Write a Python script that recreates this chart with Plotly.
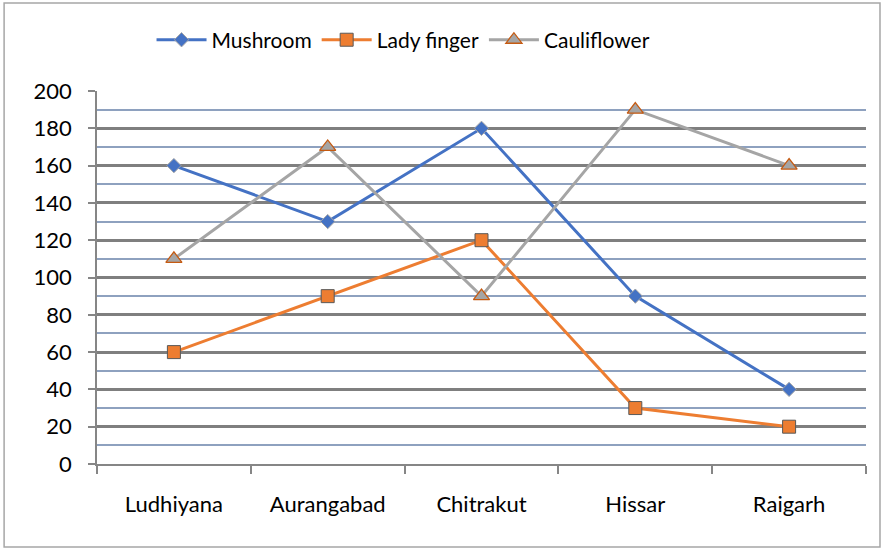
import plotly.graph_objects as go

categories = ["Ludhiyana", "Aurangabad", "Chitrakut", "Hissar", "Raigarh"]
mushroom = [160, 130, 180, 90, 40]
lady_finger = [60, 90, 120, 30, 20]
cauliflower = [110, 170, 90, 190, 160]
y_ticks = [0, 20, 40, 60, 80, 100, 120, 140, 160, 180, 200]

FONT = "Lato, 'Open Sans', sans-serif"

fig = go.Figure()
fig.add_trace(go.Scatter(
    x=categories, y=mushroom, name="Mushroom", mode="lines+markers",
    line=dict(color="#4472C4", width=3),
    marker=dict(symbol="diamond", size=11, color="#4472C4",
                line=dict(color="#A5A5A5", width=1))))
fig.add_trace(go.Scatter(
    x=categories, y=lady_finger, name="Lady finger", mode="lines+markers",
    line=dict(color="#ED7D31", width=3),
    marker=dict(symbol="square", size=13, color="#ED7D31",
                line=dict(color="#595959", width=1))))
fig.add_trace(go.Scatter(
    x=categories, y=cauliflower, name="Cauliflower", mode="lines+markers",
    line=dict(color="#A5A5A5", width=3),
    marker=dict(symbol="triangle-up", size=14, color="#A5A5A5",
                line=dict(color="#C55A11", width=1.3))))

fig.update_layout(
    width=883, height=549,
    margin=dict(l=97, r=17, t=91, b=85, autoexpand=False),
    paper_bgcolor="white", plot_bgcolor="white",
    font=dict(family=FONT, size=22, color="black"),
    showlegend=True,
    legend=dict(orientation="h", x=0.457, xref="container", xanchor="center",
                y=0.927, yref="container", yanchor="middle",
                bgcolor="rgba(0,0,0,0)",
                font=dict(size=21), itemwidth=50, traceorder="normal"),
    xaxis=dict(
        type="category", range=[-0.5, 4.5], showline=True, linecolor="#868686",
        linewidth=1.5, ticks="outside", tickson="boundaries", ticklen=8,
        tickcolor="#868686", tickwidth=1.5, showgrid=False, ticklabelstandoff=20,
        tickfont=dict(size=22), automargin=False),
    yaxis=dict(
        range=[0, 200], tickvals=y_ticks, showline=True, linecolor="#868686",
        linewidth=1.5, ticks="outside", ticklen=7, tickcolor="#868686",
        tickwidth=1.5, showgrid=True, gridcolor="#7F7F7F", gridwidth=2.5,
        zeroline=False, tickfont=dict(size=22), automargin=False,
        ticklabelstandoff=12,
        minor=dict(dtick=10, showgrid=True, gridcolor="#8EA1BF", gridwidth=1.8)),
    shapes=[dict(type="rect", xref="paper", yref="paper",
                 x0=-0.1208, x1=1.0182, y0=-0.2225, y1=1.236,
                 line=dict(color="#A6A6A6", width=1.5), layer="below")],
)

fig.write_html("out.html", config={"displayModeBar": False},
               post_script="document.body.style.margin='0';")
